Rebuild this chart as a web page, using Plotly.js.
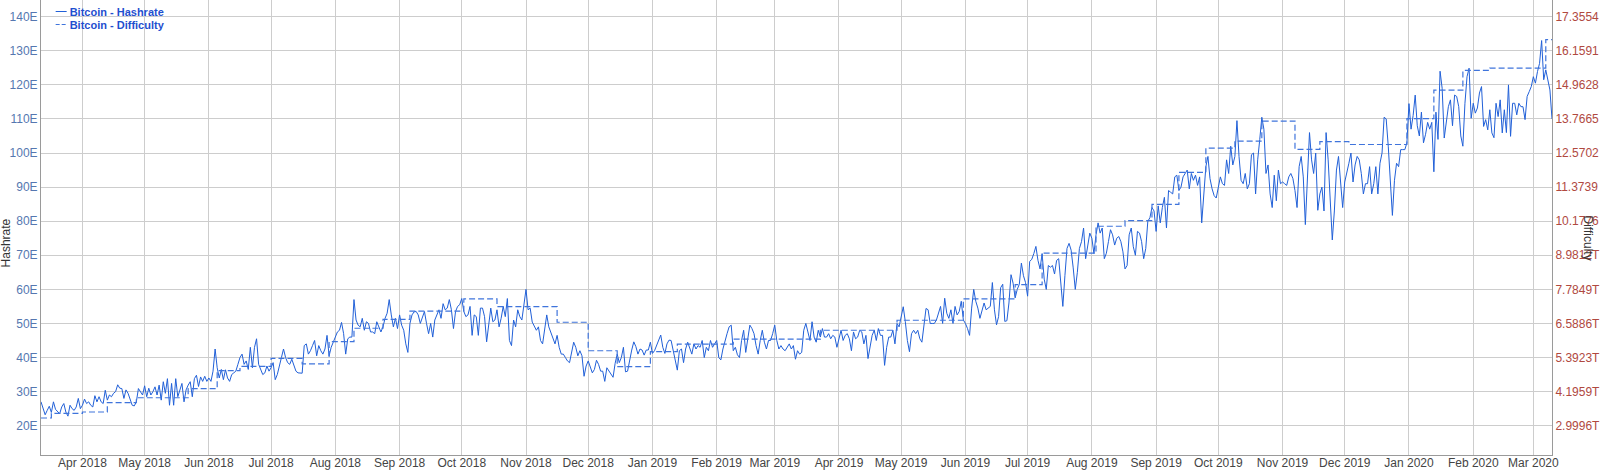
<!DOCTYPE html>
<html>
<head>
<meta charset="utf-8">
<script src="https://cdn.plot.ly/plotly-3.0.1.min.js"></script>
<style>
html,body{margin:0;padding:0;background:#fff;}
#chart{width:1600px;height:471px;}
</style>
</head>
<body>
<div id="chart"></div>
<script>
// ---- Hashrate (EH/s), one value per day, grouped by month ----
const hr2018_03 = [27, 25, 23.2, 24.5, 25.7, 23.9, 27, 24.8, 24, 23.5, 25.5, 26.5, 24, 22.8, 26, 25, 24.5, 25.5, 28, 25];
const hr2018_04 = [26, 27.8, 26.5, 27, 26, 25.5, 28.8, 27, 28.5, 27, 26.5, 30.4, 27.5, 29, 28.5, 29.5, 30, 32, 31, 30.9, 28, 30.5, 29.5, 27.5, 26, 25.8, 27, 30.9, 30, 29];
const hr2018_05 = [31.7, 28.5, 31, 29, 30, 31.4, 29, 31.9, 27.5, 32.9, 29.5, 33.8, 26, 32.4, 26, 33.8, 28.5, 30.5, 32.4, 27, 30.5, 31.9, 32.9, 28.5, 33.8, 34.8, 31.5, 34.3, 33, 34.5, 33];
const hr2018_06 = [34, 33, 36, 42.5, 37, 34, 36.5, 33.5, 36.4, 34, 33, 35, 35.5, 36, 38, 40, 41, 38, 39, 36.5, 43, 37, 43, 45.5, 38, 36.5, 35, 35.5, 37.5, 36];
const hr2018_07 = [37, 38.5, 33.5, 35, 38, 40, 42.5, 40, 38.5, 38, 39.5, 37.5, 36, 35.5, 35.5, 35.4, 43.5, 44, 41, 42, 43.5, 45, 40.5, 43.5, 42, 41, 42.5, 46.5, 40.5, 43, 44.5];
const hr2018_08 = [46, 47.5, 48, 50.3, 47, 41, 45.5, 46, 46, 57, 51, 49.5, 49, 51.5, 48, 50.5, 50, 47.5, 47.5, 47, 50.5, 49, 47.5, 49, 51.5, 53, 57, 52.5, 49, 51.5, 48.5];
const hr2018_09 = [52.5, 49.5, 48, 44, 41.5, 50, 52.5, 53.4, 53.5, 52.5, 50, 52, 53.5, 50, 47, 50, 46, 51, 52.5, 54, 51.5, 55.8, 54, 54.5, 57, 54, 48.5, 53.5, 55, 55.5];
const hr2018_10 = [57.3, 53.5, 52, 52.5, 55, 46.5, 52.5, 52, 46.5, 54.5, 54.5, 52, 44.6, 50.5, 54.5, 50.5, 51, 54, 49, 51.5, 55, 52, 57.3, 45, 43.5, 51, 49, 54, 52, 51, 56];
const hr2018_11 = [60, 54, 54.5, 50.4, 49, 48, 49, 45, 44, 48.5, 52.5, 49, 47.5, 45.5, 44, 46.5, 43, 41, 41, 40, 39, 38.5, 42, 44.5, 43, 40.5, 42, 40.5, 34.5, 37.5];
const hr2018_12 = [39, 37.5, 35.5, 36.5, 39.2, 38, 36, 36, 33, 37, 36, 35, 34.2, 38.3, 41, 38.5, 40, 43, 35.8, 36, 39.5, 42.2, 44.6, 43.2, 41, 42.5, 42.2, 40.7, 42.2, 42.2, 44.5];
const hr2019_01 = [41.2, 42, 43.5, 45.5, 46.6, 43, 41.2, 44, 45.1, 45, 42, 40, 36.3, 42, 42.5, 38.5, 42.5, 44.5, 42.5, 41, 44, 42.5, 43.5, 43, 45, 40, 43, 42, 45, 43, 44];
const hr2019_02 = [45, 40, 39.3, 42.5, 45, 47, 49, 49.5, 42, 43, 40.8, 40, 45, 48, 41.5, 45, 49.5, 48.5, 47, 43.5, 41, 45, 48, 44.5, 42.5, 45, 45, 47];
const hr2019_03 = [49.5, 45, 42.5, 43.5, 42.5, 42, 43, 44, 42.5, 43.5, 39.5, 42, 41, 41.5, 48, 50, 47.5, 45, 50.5, 46, 44.5, 48, 46, 48.5, 46, 46, 47, 45.5, 46.5, 46, 43];
const hr2019_04 = [45.5, 48, 45, 46.5, 47, 45.5, 42, 47.5, 45.5, 46, 48, 47.5, 44, 46.5, 39.7, 43, 46.5, 48, 45, 48.5, 46.5, 46.5, 37.7, 43, 46, 46, 48, 44, 50, 49];
const hr2019_05 = [51.5, 54.9, 50.5, 45, 41.7, 47, 48, 47, 48, 45.5, 44.5, 50, 54.4, 54, 50, 50, 50, 51, 53, 55, 50, 57.4, 53, 51.5, 54, 50, 55, 52.5, 53.5, 56.5, 51];
const hr2019_06 = [50, 48.5, 46.5, 54.5, 60, 56.5, 54.5, 51.5, 53.5, 56, 54, 54.5, 55, 62, 54, 49.6, 52, 60.5, 61.5, 50.6, 50.8, 56, 64.3, 61.8, 57.5, 60, 61.5, 67.7, 64, 62];
const hr2019_07 = [58, 68.2, 68.8, 70.5, 72.6, 68.5, 66, 70.5, 63, 60, 67, 66.5, 67, 64.5, 68.5, 69, 62, 55, 64, 72, 73.5, 71.5, 66.3, 60, 65, 72, 74, 78, 69, 72.5, 76.5];
const hr2019_08 = [75, 70.5, 76, 79.5, 76.5, 78, 69, 70.6, 74, 77.5, 76, 73, 75, 75.5, 74, 71, 66, 67, 76, 78, 72.5, 70, 77, 76.5, 74, 69, 72, 80, 81, 84, 83];
const hr2019_09 = [77, 84.5, 79.5, 84, 87, 78, 89, 88.5, 88, 93, 93.5, 89, 90, 93, 94, 95, 89.5, 94, 92, 93.5, 90.5, 93, 79.5, 89.5, 96, 99, 92.5, 89.5, 87.5, 86.8];
const hr2019_10 = [90, 93, 91, 90.5, 98, 94, 102, 96.5, 99, 109.5, 99, 92, 91, 94, 89.5, 91, 99.5, 100, 88, 98, 104, 110.5, 107, 94, 96.5, 88, 84, 93.5, 86, 95, 91];
const hr2019_11 = [91.5, 91, 90.5, 93, 94, 92.5, 89, 84, 96, 99, 93, 79, 95, 106, 98, 94, 100, 83.2, 88, 90, 83, 106, 98, 86, 74.5, 83, 95, 99, 92, 84];
const hr2019_12 = [91.5, 94, 97, 100, 91.5, 96.5, 99, 98, 94, 88, 91, 91, 96, 88, 91, 96, 88, 97, 100, 110.5, 110, 102, 91, 81.7, 92, 97, 96, 101, 101, 101, 103];
const hr2020_01 = [114.5, 107, 111, 117, 108, 105, 112, 103, 105.5, 109, 107, 109, 94.5, 112, 104, 124, 119, 104.4, 110, 113.6, 115.6, 108, 117, 116.6, 113.6, 105, 102, 114.6, 122.4, 124.9, 110.2];
const hr2020_02 = [114.6, 111.7, 113.2, 117.6, 119.5, 107.8, 109.8, 106.8, 112.7, 105.9, 104.5, 114.6, 110.7, 115.6, 105.9, 112.7, 106, 120, 104.9, 114.6, 114.6, 111.2, 114.6, 113.6, 113.6, 109.8, 116.6, 118, 119.5];
const hr2020_03 = [122.4, 120.5, 123.9, 126.3, 133, 121.5, 124.4, 121, 118.5, 110];

// first day of each monthly block
const hashrateMonths = [
  ['2018-03-12', hr2018_03], ['2018-04-01', hr2018_04], ['2018-05-01', hr2018_05],
  ['2018-06-01', hr2018_06], ['2018-07-01', hr2018_07], ['2018-08-01', hr2018_08],
  ['2018-09-01', hr2018_09], ['2018-10-01', hr2018_10], ['2018-11-01', hr2018_11],
  ['2018-12-01', hr2018_12], ['2019-01-01', hr2019_01], ['2019-02-01', hr2019_02],
  ['2019-03-01', hr2019_03], ['2019-04-01', hr2019_04], ['2019-05-01', hr2019_05],
  ['2019-06-01', hr2019_06], ['2019-07-01', hr2019_07], ['2019-08-01', hr2019_08],
  ['2019-09-01', hr2019_09], ['2019-10-01', hr2019_10], ['2019-11-01', hr2019_11],
  ['2019-12-01', hr2019_12], ['2020-01-01', hr2020_01], ['2020-02-01', hr2020_02],
  ['2020-03-01', hr2020_03]
];

// ---- Difficulty (T), value from each adjustment date ----
const difficultyDates = ['2018-03-12','2018-03-17','2018-04-01','2018-04-13','2018-04-27','2018-05-22',
  '2018-06-05','2018-06-16','2018-07-01','2018-07-16','2018-07-29','2018-08-10','2018-08-24',
  '2018-09-06','2018-10-02','2018-10-18','2018-11-16','2018-12-01','2018-12-15','2018-12-31',
  '2019-01-13','2019-02-09','2019-03-23','2019-04-29','2019-05-31','2019-06-25','2019-07-08',
  '2019-08-03','2019-08-17','2019-08-30','2019-09-12','2019-09-25','2019-10-09','2019-10-22',
  '2019-11-07','2019-11-19','2019-12-03','2019-12-31','2020-01-13','2020-01-27','2020-02-09',
  '2020-03-07','2020-03-10'];
const difficultyT = [3.27, 3.43, 3.48, 3.81, 3.98, 4.30,
  4.93, 5.08, 5.36, 5.17, 5.95, 6.42, 6.73,
  7.02, 7.45, 7.18, 6.63, 5.63, 5.07, 5.60,
  5.86, 6.04, 6.35, 6.70, 7.45, 7.95, 9.06,
  10.00, 10.20, 10.77, 11.89, 12.74, 12.99, 13.69,
  12.70, 12.97, 12.87, 13.78, 14.78, 15.47, 15.55,
  16.55, 16.55];

// ---- Axis ticks ----
const hashrateTicks = [20, 30, 40, 50, 60, 70, 80, 90, 100, 110, 120, 130, 140];
const hashrateTickText = ['20E','30E','40E','50E','60E','70E','80E','90E','100E','110E','120E','130E','140E'];
const difficultyTicks = [2.9996, 4.1959, 5.3923, 6.5886, 7.7849, 8.9812, 10.1776, 11.3739, 12.5702, 13.7665, 14.9628, 16.1591, 17.3554];
const difficultyTickText = ['2.9996T','4.1959T','5.3923T','6.5886T','7.7849T','8.9812T','10.1776','11.3739','12.5702','13.7665','14.9628','16.1591','17.3554'];

function dayAfter(start, i) {
  const p = start.split('-').map(Number);
  return new Date(Date.UTC(p[0], p[1] - 1, p[2] + i)).toISOString().slice(0, 10);
}
const hrDates = [], hrValues = [];
hashrateMonths.forEach(function (m) {
  m[1].forEach(function (v, i) { hrDates.push(dayAfter(m[0], i)); hrValues.push(v); });
});

const FONT = 'Liberation Sans, Arial, sans-serif';

const traces = [
  {
    name: 'Bitcoin - Hashrate', x: hrDates, y: hrValues, type: 'scatter', mode: 'lines',
    line: {color: '#2160d8', width: 1}, yaxis: 'y'
  },
  {
    name: 'Bitcoin - Difficulty', x: difficultyDates, y: difficultyT, type: 'scatter', mode: 'lines',
    line: {color: '#3f74dc', width: 1.2, dash: '6px,3px', shape: 'hv'}, yaxis: 'y2'
  }
];

const layout = {
  width: 1600, height: 471,
  margin: {l: 41, r: 48, t: 0, b: 16, pad: 0},
  paper_bgcolor: '#ffffff', plot_bgcolor: '#ffffff',
  font: {family: FONT, size: 12, color: '#444'},
  showlegend: true,
  legend: {
    x: -0.0075, y: 1, xanchor: 'left', yanchor: 'top',
    bgcolor: 'rgba(0,0,0,0)', itemwidth: 30,
    font: {family: FONT, size: 11, color: '#1f4fcf', weight: 'bold'},
    tracegroupgap: 0
  },
  xaxis: {
    type: 'date', range: ['2018-03-12', '2020-03-10'],
    tick0: '2018-04-01', dtick: 'M1', tickformat: '%b %Y',
    showgrid: true, gridcolor: '#cdcdcd', gridwidth: 1,
    showline: true, linecolor: '#9a9a9a', linewidth: 1,
    ticks: '', ticklabelstandoff: -3, tickfont: {family: FONT, size: 12, color: '#444'},
    zeroline: false, automargin: false
  },
  yaxis: {
    range: [11.4, 144.9], tickmode: 'array', tickvals: hashrateTicks, ticktext: hashrateTickText,
    showgrid: true, gridcolor: '#cdcdcd', gridwidth: 1,
    showline: true, linecolor: '#9a9a9a', linewidth: 1,
    ticks: '', tickfont: {family: FONT, size: 12, color: '#5577b0'},
    zeroline: false, automargin: false
  },
  yaxis2: {
    overlaying: 'y', side: 'right',
    range: [1.9708, 17.942], tickmode: 'array', tickvals: difficultyTicks, ticktext: difficultyTickText,
    showgrid: false, showline: true, linecolor: '#9a9a9a', linewidth: 1,
    ticks: '', tickfont: {family: FONT, size: 12, color: '#b0493f'},
    zeroline: false, automargin: false
  },
  annotations: [
    {text: 'Hashrate', xref: 'paper', yref: 'paper', x: 0, y: 0.465, xshift: -35,
     xanchor: 'center', yanchor: 'middle',
     showarrow: false, textangle: -90, font: {family: FONT, size: 12, color: '#333'}},
    {text: 'Difficulty', xref: 'paper', yref: 'paper', x: 1, y: 0.478, xshift: 36,
     xanchor: 'center', yanchor: 'middle',
     showarrow: false, textangle: 90, font: {family: FONT, size: 12, color: '#333'}}
  ]
};

Plotly.newPlot('chart', traces, layout, {displayModeBar: false, staticPlot: true}).then(function (gd) {
  // compact legend: short line samples and tight rows, as in the reference
  const items = gd.querySelectorAll('.legend .traces');
  let y0 = null;
  items.forEach(function (g, i) {
    const m = /translate\(\s*([-\d.]+)[ ,]+([-\d.]+)\s*\)/.exec(g.getAttribute('transform') || '');
    if (!m) return;
    if (y0 === null) y0 = parseFloat(m[2]);
    g.setAttribute('transform', 'translate(' + m[1] + ',' + (y0 + 13 * i) + ')');
    g.querySelectorAll('.legendlines path').forEach(function (p) {
      p.setAttribute('d', 'M26,0h11');
      if (i === 1) p.style.strokeDasharray = '4px,2px';
    });
  });
  const leg = gd.querySelector('.legend');
  if (leg) {
    const m = /translate\(\s*([-\d.]+)[ ,]+([-\d.]+)\s*\)/.exec(leg.getAttribute('transform') || '');
    if (m) leg.setAttribute('transform', 'translate(' + m[1] + ',' + (parseFloat(m[2]) - 3) + ')');
    const bg = leg.querySelector('.bg');
    if (bg) bg.style.display = 'none';
  }
});
</script>
</body>
</html>
